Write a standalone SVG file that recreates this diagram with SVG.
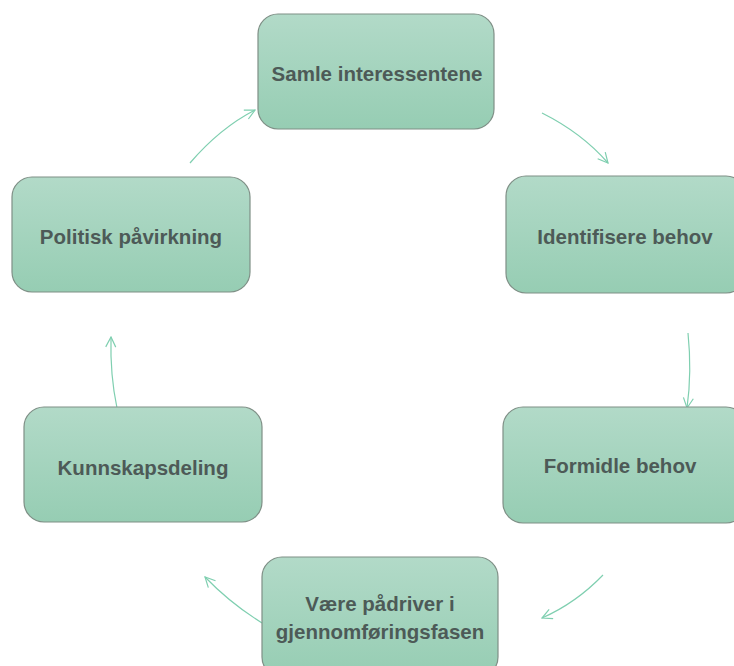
<svg xmlns="http://www.w3.org/2000/svg" width="734" height="666" viewBox="0 0 734 666">
<defs>
<linearGradient id="g" x1="0" y1="0" x2="0" y2="1">
<stop offset="0" stop-color="#b2dac8"/>
<stop offset="1" stop-color="#96cdb3"/>
</linearGradient>
<marker id="arr" viewBox="0 0 12 12" refX="11" refY="6" markerWidth="12" markerHeight="12" markerUnits="userSpaceOnUse" orient="auto">
<path d="M1,1 L11,6 L1,11" fill="none" stroke="#7fcfb0" stroke-width="1.2"/>
</marker>
</defs>
<style>
.box{fill:url(#g);stroke:#7f8f86;stroke-width:1.2}
.t{font-family:"Liberation Sans",Arial,sans-serif;font-weight:bold;font-size:20.5px;fill:#4d5a57;text-anchor:middle}
.c{fill:none;stroke:#7fcfb0;stroke-width:1.2;marker-end:url(#arr)}
</style>
<rect width="734" height="666" fill="#ffffff"/>
<g id="connectors">
<path class="c" d="M190,163 Q220,128 255,110"/>
<path class="c" d="M542,113 Q582,133 608,163"/>
<path class="c" d="M688,333 Q692,372 687,408"/>
<path class="c" d="M603,575 Q576,603 542,618"/>
<path class="c" d="M262,623 Q230,603 205,577"/>
<path class="c" d="M117,408 Q110,375 111,337"/>
</g>
<g id="n1"><rect class="box" x="258" y="14" width="236" height="115" rx="20"/><text class="t" x="377" y="81">Samle interessentene</text></g>
<g id="n2"><rect class="box" x="506" y="176" width="240" height="117" rx="20"/><text class="t" x="625" y="244">Identifisere behov</text></g>
<g id="n3"><rect class="box" x="503" y="407" width="243" height="116" rx="20"/><text class="t" x="620" y="473">Formidle behov</text></g>
<g id="n4"><rect class="box" x="262" y="557" width="236" height="120" rx="20"/><text class="t" x="380" y="611">Være pådriver i</text><text class="t" x="380" y="639">gjennomføringsfasen</text></g>
<g id="n5"><rect class="box" x="24" y="407" width="238" height="115" rx="20"/><text class="t" x="143" y="475">Kunnskapsdeling</text></g>
<g id="n6"><rect class="box" x="12" y="177" width="238" height="115" rx="20"/><text class="t" x="131" y="244">Politisk påvirkning</text></g>
</svg>
